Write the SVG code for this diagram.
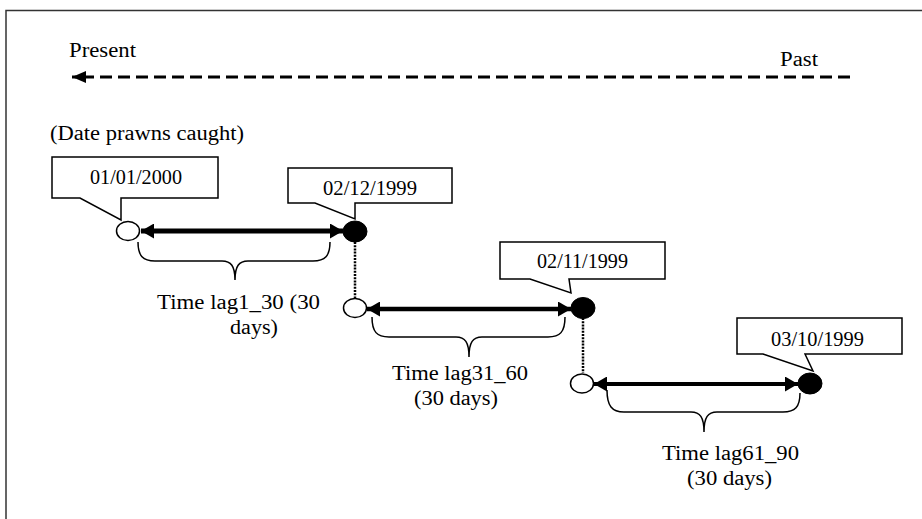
<svg xmlns="http://www.w3.org/2000/svg" width="922" height="519" viewBox="0 0 922 519">
<style>
text{font-family:"Liberation Serif","Times New Roman",serif;font-size:20px;fill:#000}
.box{fill:#fff;stroke:#000;stroke-width:1.5}
.open{fill:#fff;stroke:#000;stroke-width:1.5}
.fill{fill:#000;stroke:#000;stroke-width:1}
.shaft{stroke:#000;fill:none}
.brace{fill:none;stroke:#000;stroke-width:1.5}
.dot{stroke:#000;stroke-width:2.5;stroke-dasharray:2 1.2;fill:none}
</style>
<defs>
<marker id="ah" viewBox="0 0 13 15" refX="13" refY="7.5" markerWidth="13" markerHeight="15" markerUnits="userSpaceOnUse" orient="auto-start-reverse">
<path d="M0,0 L13,7.5 L0,15 Z" fill="#000"/>
</marker>
<marker id="ah2" viewBox="0 0 14 12" refX="14" refY="6" markerWidth="14" markerHeight="12" markerUnits="userSpaceOnUse" orient="auto">
<path d="M0,0 L14,6 L0,12 Z" fill="#000"/>
</marker>
</defs>
<rect width="922" height="519" fill="#fff"/>
<path d="M6,519 V10.5 H922" fill="none" stroke="#333" stroke-width="1.5"/>
<g id="timeline">
<line x1="850" y1="77" x2="72" y2="77" stroke="#000" stroke-width="3" stroke-dasharray="12 6" marker-end="url(#ah2)"/>
<text x="69" y="57" textLength="67" lengthAdjust="spacingAndGlyphs">Present</text>
<text x="780" y="66" textLength="38" lengthAdjust="spacingAndGlyphs">Past</text>
</g>
<text x="50" y="140" textLength="194" lengthAdjust="spacingAndGlyphs">(Date prawns caught)</text>
<g id="connectors">
<line class="shaft" x1="141" y1="231" x2="343" y2="231" stroke-width="5" marker-start="url(#ah)" marker-end="url(#ah)"/>
<line class="shaft" x1="367" y1="309" x2="571" y2="309" stroke-width="4.5" marker-start="url(#ah)" marker-end="url(#ah)"/>
<line class="shaft" x1="594" y1="384" x2="798" y2="384" stroke-width="4" marker-start="url(#ah)" marker-end="url(#ah)"/>
<line class="dot" x1="355" y1="242" x2="355" y2="298"/>
<line class="dot" x1="583" y1="318" x2="583" y2="373"/>
</g>
<g id="callout1">
<polygon class="box" points="52,157 218,157 218,198 121,198 121,220 80,198 52,198"/>
<text x="90" y="184" textLength="92" lengthAdjust="spacingAndGlyphs">01/01/2000</text>
</g>
<g id="callout2">
<polygon class="box" points="288,168 452,168 452,203 355,203 355,219 315,203 288,203"/>
<text x="323" y="195" textLength="94" lengthAdjust="spacingAndGlyphs">02/12/1999</text>
</g>
<g id="callout3">
<polygon class="box" points="500,242 665,242 665,279 569,279 571,293 530,279 500,279"/>
<text x="537" y="268" textLength="91" lengthAdjust="spacingAndGlyphs">02/11/1999</text>
</g>
<g id="callout4">
<polygon class="box" points="737,318 902,318 902,354 805,354 813,371 763,354 737,354"/>
<text x="771" y="346" textLength="93" lengthAdjust="spacingAndGlyphs">03/10/1999</text>
</g>
<g id="point1"><ellipse class="open" cx="128" cy="231" rx="11.5" ry="9.5"/></g>
<g id="point2"><ellipse class="fill" cx="355" cy="231.5" rx="12" ry="10.5"/></g>
<g id="point3"><ellipse class="open" cx="355" cy="308" rx="11.5" ry="9.5"/></g>
<g id="point4"><ellipse class="fill" cx="583" cy="308" rx="12" ry="10.5"/></g>
<g id="point5"><ellipse class="open" cx="582" cy="383.5" rx="11.5" ry="9.5"/></g>
<g id="point6"><ellipse class="fill" cx="810" cy="383.5" rx="12" ry="10.5"/></g>
<g id="lag1">
<path class="brace" d="M138,242 C138,256 143,261 155,261 L222,261 C231,261 235,266 235,280 C235,266 239,261 248,261 L313,261 C325,261 330,256 330,242"/>
<text x="157" y="309" textLength="163" lengthAdjust="spacingAndGlyphs">Time lag1_30 (30</text>
<text x="230" y="334" textLength="48" lengthAdjust="spacingAndGlyphs">days)</text>
</g>
<g id="lag2">
<path class="brace" d="M372,317 C372,332 377,337 389,337 L456,337 C465,337 469,342 469,357 C469,342 473,337 482,337 L548,337 C560,337 565,332 565,317"/>
<text x="392" y="380" textLength="136" lengthAdjust="spacingAndGlyphs">Time lag31_60</text>
<text x="414" y="405" textLength="84" lengthAdjust="spacingAndGlyphs">(30 days)</text>
</g>
<g id="lag3">
<path class="brace" d="M607,390 C607,406 612,412 624,412 L691,412 C700,412 704,417 704,432 C704,417 708,412 717,412 L783,412 C795,412 800,407 800,393"/>
<text x="662" y="460" textLength="137" lengthAdjust="spacingAndGlyphs">Time lag61_90</text>
<text x="687" y="485" textLength="85" lengthAdjust="spacingAndGlyphs">(30 days)</text>
</g>
</svg>
